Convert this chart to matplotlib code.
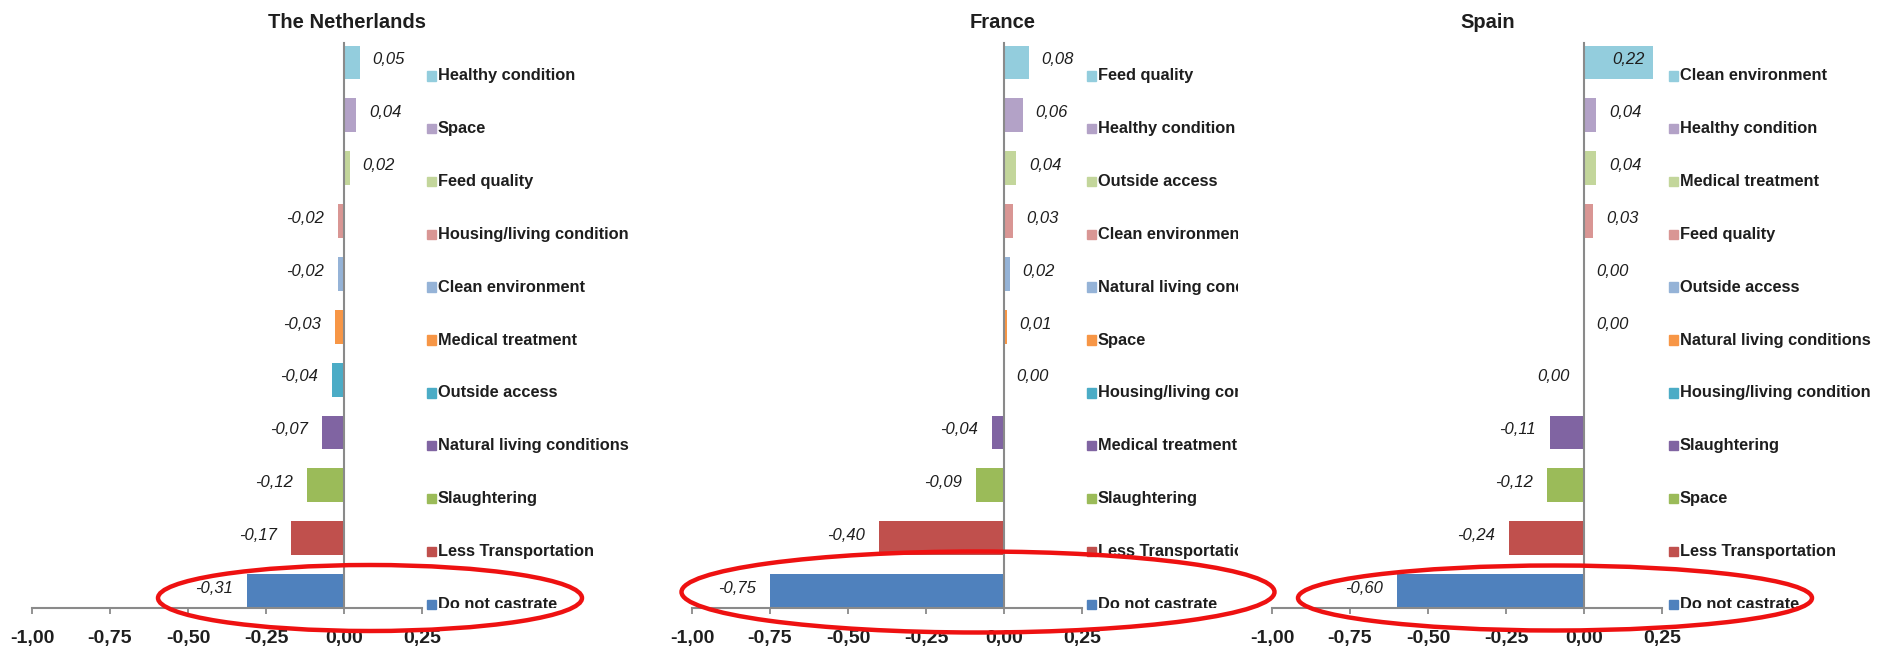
import matplotlib
matplotlib.use("Agg")
import matplotlib.pyplot as plt
from matplotlib.patches import Ellipse, Rectangle

# ---- data: category order as listed top -> bottom in each panel ----
countries = ["The Netherlands", "France", "Spain"]

nl_labels = ["Healthy condition", "Space", "Feed quality", "Housing/living condition",
             "Clean environment", "Medical treatment", "Outside access",
             "Natural living conditions", "Slaughtering", "Less Transportation", "Do not castrate"]
nl_values = [0.05, 0.04, 0.02, -0.02, -0.02, -0.03, -0.04, -0.07, -0.12, -0.17, -0.31]

fr_labels = ["Feed quality", "Healthy condition", "Outside access", "Clean environment",
             "Natural living conditions", "Space", "Housing/living condition",
             "Medical treatment", "Slaughtering", "Less Transportation", "Do not castrate"]
fr_values = [0.08, 0.06, 0.04, 0.03, 0.02, 0.01, 0.00, -0.04, -0.09, -0.40, -0.75]

es_labels = ["Clean environment", "Healthy condition", "Medical treatment", "Feed quality",
             "Outside access", "Natural living conditions", "Housing/living condition",
             "Slaughtering", "Space", "Less Transportation", "Do not castrate"]
es_values = [0.22, 0.04, 0.04, 0.03, 0.00, 0.00, 0.00, -0.11, -0.12, -0.24, -0.60]

# zero values whose label sits on the negative side of the axis
zero_left = {"Spain": ["Housing/living condition"]}

xticks = [-1.00, -0.75, -0.50, -0.25, 0.00, 0.25]

# Office palette, assigned by row position (top -> bottom)
colors = ["#93CDDD", "#B3A2C7", "#C3D69B", "#D99694", "#95B3D7", "#F79646",
          "#4BACC6", "#8064A2", "#9BBB59", "#C0504D", "#4F81BD"]

panels = [(nl_labels, nl_values), (fr_labels, fr_values), (es_labels, es_values)]

# ---- layout (pixels on a 1890x659 canvas) ----
W, H = 1890, 659
AX_LEFT = [32, 692, 1272]
AX_W = 390
AX_TOP, AX_BOT = 43, 608
LEG_X = [427, 1087, 1669]
LEG_END = [700, 1238, 1890]
TITLE_X = [347, 1003, 1488]
RINGS = [(370, 598, 424, 66), (978, 592, 593, 81), (1555, 598, 514, 65)]

plt.rcParams.update({"font.family": ["Liberation Sans", "DejaVu Sans"],
                     "axes.linewidth": 1.5})
GREY = "#8a8a8a"
INK = "#1e1e1e"


def rect(x0, x1, y0, y1):
    return [x0 / W, 1 - y1 / H, (x1 - x0) / W, (y1 - y0) / H]


fig = plt.figure(figsize=(W / 100, H / 100), dpi=100)
fig.patch.set_facecolor("white")

for i, (name, (labels, values)) in enumerate(zip(countries, panels)):
    n = len(values)
    pos = list(range(n))[::-1]
    ylim = (-0.32, 10.37)

    ax = fig.add_axes(rect(AX_LEFT[i], AX_LEFT[i] + AX_W, AX_TOP, AX_BOT))
    ax.barh(pos, values, height=0.64, color=colors, zorder=2)
    ax.set_xlim(-1.0, 0.25)
    ax.set_ylim(*ylim)
    ax.set_yticks([])
    ax.set_xticks(xticks)
    ax.set_xticklabels([f"{t:.2f}".replace(".", ",") for t in xticks],
                       fontsize=14, fontweight="bold", color=INK)
    ax.tick_params(axis="x", direction="out", length=4, width=1.3, color=GREY, pad=12)
    for s in ("top", "right"):
        ax.spines[s].set_visible(False)
    ax.spines["left"].set_position(("data", 0))
    ax.spines["left"].set_color(GREY)
    ax.spines["bottom"].set_color(GREY)
    ax.spines["left"].set_zorder(3)
    ax.patch.set_visible(False)

    # value labels, italic, outside the bar end unless they would leave the plot
    for lab, p, v in zip(labels, pos, values):
        txt = f"{v:.2f}".replace(".", ",")
        left = v < 0 or (v == 0 and lab in zero_left.get(name, []))
        if left:
            off, ha = -10, "right"
        elif v + 0.15 > 0.25:
            off, ha = -6, "right"
        else:
            off, ha = 9, "left"
        ax.annotate(txt, (v, p), xytext=(off, 2), textcoords="offset points",
                    ha=ha, va="center", fontsize=12, fontstyle="italic", color=INK,
                    zorder=4)

    # legend column, clipped at its right edge
    lw = LEG_END[i] - LEG_X[i]
    lax = fig.add_axes(rect(LEG_X[i], LEG_END[i], AX_TOP, AX_BOT))
    lax.set_xlim(0, lw)
    lax.set_ylim(*ylim)
    lax.axis("off")
    for lab, p, c in zip(labels, pos, colors):
        yc = p - 0.25
        lax.add_patch(Rectangle((0, yc - 0.09), 9, 0.18, color=c, clip_on=False))
        lax.text(11, yc, lab, ha="left", va="center", fontsize=11.8,
                 fontweight="bold", color=INK, clip_on=True)

    fig.text(TITLE_X[i] / W, 1 - 22 / H, name, ha="center", va="center",
             fontsize=14.5, fontweight="bold", color=INK)

# red rings around the "Do not castrate" rows
for cx, cy, ew, eh in RINGS:
    fig.add_artist(Ellipse((cx / W, 1 - cy / H), ew / W, eh / H, fill=False,
                           ec="#ee1111", lw=3.2, transform=fig.transFigure, zorder=10))

fig.savefig("out.png", dpi=100, facecolor="white")
